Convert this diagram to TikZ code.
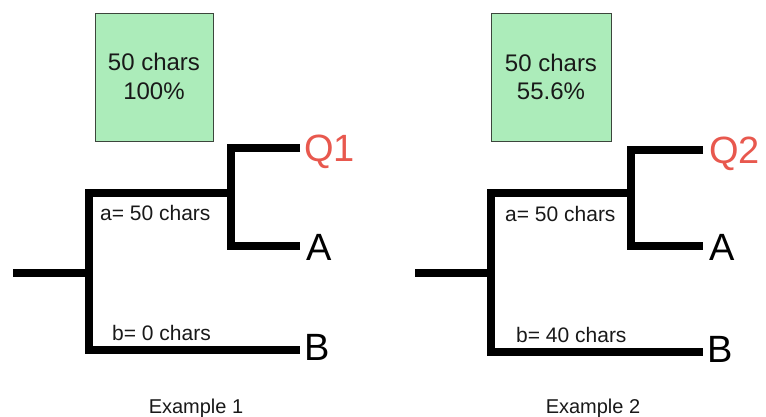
\documentclass[tikz,border=0pt]{standalone}
\usepackage{fontspec}
\setmainfont{Liberation Sans}
\definecolor{boxgreen}{RGB}{172,236,186}
\definecolor{boxedge}{RGB}{60,70,60}
\definecolor{leafred}{RGB}{232,88,78}
\definecolor{inktext}{RGB}{25,25,25}
\begin{document}
\begin{tikzpicture}[x=1pt,y=-1pt,
  branch/.style={line width=7.5pt,line join=miter,line cap=butt,black},
  scorebox/.style={draw=boxedge,line width=1pt,fill=boxgreen},
  boxtext/.style={font=\fontsize{24}{24}\selectfont,text=inktext,inner sep=0pt,anchor=base},
  leaf/.style={font=\fontsize{38}{38}\selectfont,inner sep=0pt,anchor=base west},
  query/.style={leaf,text=leafred},
  edgelabel/.style={font=\fontsize{21}{21}\selectfont,text=inktext,inner sep=0pt,anchor=base west},
  caption/.style={font=\fontsize{20}{20}\selectfont,text=inktext,inner sep=0pt,anchor=base}]
\useasboundingbox (0,0) rectangle (766,417);

% ---------- Example 1 ----------
\node[scorebox,minimum width=118pt,minimum height=128pt,anchor=north west] (box1) at (95,13) {};
\node[boxtext] (box1a) at (154,71) {50 chars};
\node[boxtext] (box1b) at (154,100) {100\%};

\coordinate (root1) at (13,273);
\coordinate (split1) at (89,273);
\coordinate (up1) at (89,193);
\coordinate (low1) at (89,350);
\coordinate (inner1) at (231,193);
\coordinate (innertop1) at (231,148);
\coordinate (innerbot1) at (231,246);
\coordinate (q1end) at (300,148);
\coordinate (a1end) at (300,246);
\coordinate (b1end) at (300,350);

\draw[branch] (root1) -- (split1);
\draw[branch] (inner1) -- (up1) -- (low1) -- (b1end);
\draw[branch] (q1end) -- (innertop1) -- (innerbot1) -- (a1end);

\node[query] (q1) at (304,162) {Q1};
\node[leaf] (a1) at (306,260) {A};
\node[leaf] (b1) at (304,360) {B};

\node[edgelabel] (la1) at (100,220) {a= 50 chars};
\node[edgelabel] (lb1) at (112,340) {b= 0 chars};
\node[caption] (cap1) at (196,413) {Example 1};

% ---------- Example 2 ----------
\node[scorebox,minimum width=120pt,minimum height=128pt,anchor=north west] (box2) at (491,13) {};
\node[boxtext] (box2a) at (551,72) {50 chars};
\node[boxtext] (box2b) at (551,100) {55.6\%};

\coordinate (root2) at (415,273);
\coordinate (split2) at (491,273);
\coordinate (up2) at (491,193);
\coordinate (low2) at (491,352);
\coordinate (inner2) at (631,193);
\coordinate (innertop2) at (631,150);
\coordinate (innerbot2) at (631,246);
\coordinate (q2end) at (703,150);
\coordinate (a2end) at (703,246);
\coordinate (b2end) at (703,352);

\draw[branch] (root2) -- (split2);
\draw[branch] (inner2) -- (up2) -- (low2) -- (b2end);
\draw[branch] (q2end) -- (innertop2) -- (innerbot2) -- (a2end);

\node[query] (q2) at (709,164) {Q2};
\node[leaf] (a2) at (709,260) {A};
\node[leaf] (b2) at (707,362) {B};

\node[edgelabel] (la2) at (505,222) {a= 50 chars};
\node[edgelabel] (lb2) at (516,342) {b= 40 chars};
\node[caption] (cap2) at (593,413) {Example 2};
\end{tikzpicture}
\end{document}
